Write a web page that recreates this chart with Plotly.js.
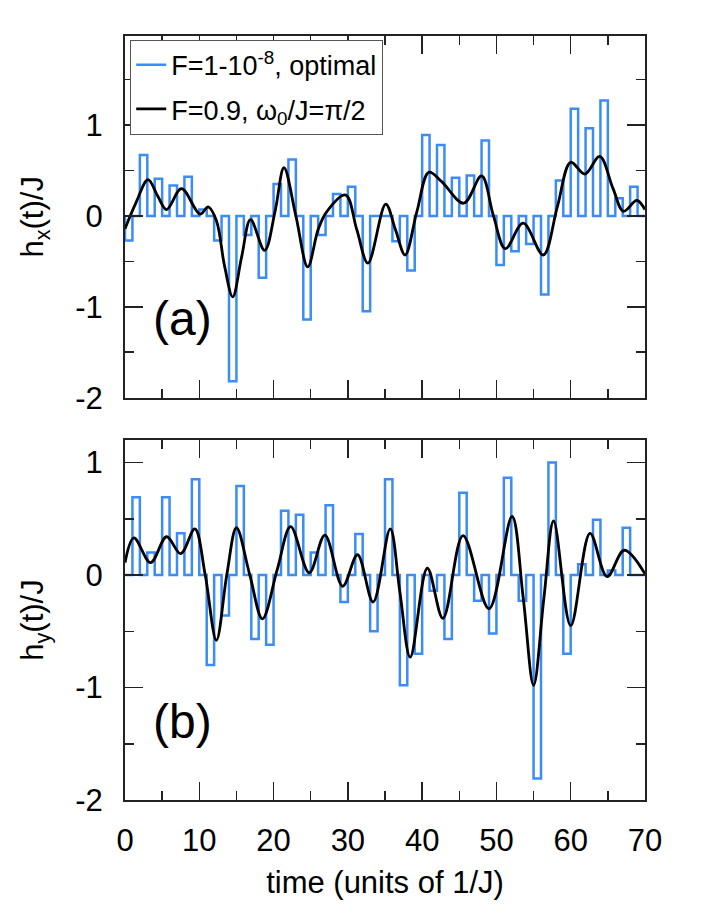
<!DOCTYPE html>
<html>
<head>
<meta charset="utf-8">
<script src="https://cdn.plot.ly/plotly-3.0.1.min.js"></script>
<style>
  html, body { margin: 0; padding: 0; background: #fff; }
  #chart { width: 706px; height: 913px; }
</style>
</head>
<body>
<div id="chart"></div>
<script>
// pulse amplitudes of the optimal sequence (F = 1 - 1e-8), one pulse per time slot
const PULSE_WIDTH = 1;
const T_END = 70;

// h_x pulses start on even times, h_y pulses on odd times
const hxStart = [0, 2, 4, 6, 8, 10, 12, 14, 16, 18, 20, 22, 24, 26, 28, 30, 32, 34,
  36, 38, 40, 42, 44, 46, 48, 50, 52, 54, 56, 58, 60, 62, 64, 66, 68];
const hxPulse = [-0.27, 0.67, 0.41, 0.335, 0.43, 0.07, -0.27, -1.82, -0.21, -0.68,
  0.35, 0.62, -1.14, -0.21, 0.24, 0.32, -1.05, 0.0, -0.28, -0.6, 0.89, 0.78,
  0.42, 0.445, 0.83, -0.54, -0.39, -0.31, -0.865, 0.39, 1.18, 0.965, 1.27, 0.195, 0.32];

const hyStart = [1, 3, 5, 7, 9, 11, 13, 15, 17, 19, 21, 23, 25, 27, 29, 31, 33, 35,
  37, 39, 41, 43, 45, 47, 49, 51, 53, 55, 57, 59, 61, 63, 65, 67, 69];
const hyPulse = [0.69, 0.2, 0.69, 0.37, 0.85, -0.8, -0.36, 0.79, -0.57, -0.62,
  0.57, 0.535, 0.2, 0.62, -0.24, 0.365, -0.5, 0.85, -0.98, -0.7, -0.14, -0.57,
  0.73, -0.23, -0.52, 0.865, -0.23, -1.81, 1.0, -0.7, 0.095, 0.49, 0.04, 0.42, 0.0];

// smooth field for F = 0.9, omega0/J = pi/2
const smoothXt = [0, 1.5, 3.1, 4.4, 5.6, 7.6, 10.1, 11.2, 12.3, 13.4, 14.5, 15.7, 16.9,
  18.8, 20.2, 21.4, 23.0, 24.6, 26.0, 27.1, 29.7, 31.2, 32.7, 35.1, 36.4, 37.7, 39.3,
  40.9, 42.6, 45.6, 48.0, 49.6, 51.2, 53.6, 56.3, 58.2, 60.0, 61.9, 63.9, 65.7, 67.1, 68.9, 70];
const smoothX = [-0.14, 0.15, 0.4, 0.22, 0.07, 0.3, 0.02, 0.1, -0.05, -0.55, -0.89, -0.45, -0.04,
  -0.38, 0.05, 0.53, 0.0, -0.56, -0.15, 0.04, 0.23, -0.15, -0.52, 0.13, -0.15, -0.43, 0.05,
  0.48, 0.38, 0.14, 0.44, 0.0, -0.36, -0.08, -0.43, 0.1, 0.59, 0.46, 0.655, 0.3, 0.05, 0.17, 0.07];

const smoothYt = [0, 1.2, 3.45, 5.6, 7.5, 9.4, 10.8, 12.3, 13.7, 15.0, 16.8, 18.5, 20.5,
  22.3, 24.8, 26.9, 29.3, 31.3, 33.4, 35.7, 37.0, 38.4, 40.7, 42.8, 45.5, 49.0, 52.1,
  53.6, 55.0, 56.4, 57.7, 60.0, 62.6, 64.9, 67.2, 70];
const smoothY = [0.11, 0.33, 0.11, 0.34, 0.19, 0.41, 0.0, -0.58, 0.0, 0.42, 0.0, -0.39, 0.05,
  0.43, 0.02, 0.355, -0.1, 0.18, -0.24, 0.41, -0.15, -0.73, 0.06, -0.385, 0.35, -0.3, 0.52,
  -0.2, -0.98, -0.2, 0.48, -0.45, 0.37, -0.015, 0.22, 0.01];

// tick labels (plain hyphen as in the original figure)
const yTickVals = [-2, -1, 0, 1];
const yTickText = ["-2", "-1", "0", "1"];
const xTickVals = [0, 10, 20, 30, 40, 50, 60, 70];
const xTickText = ["0", "10", "20", "30", "40", "50", "60", "70"];

const BLUE = "#3b8cf5";
const INK = "#222222";
const FONT = "Liberation Sans, Arial, Helvetica, sans-serif";

// outline of the pulse train: up, across, down, then along zero to the next slot
function pulseOutline(starts, amps) {
  const xs = [0], ys = [0];
  starts.forEach((t, i) => {
    xs.push(t, t, t + PULSE_WIDTH, t + PULSE_WIDTH);
    ys.push(0, amps[i], amps[i], 0);
  });
  xs.push(T_END);
  ys.push(0);
  return { xs, ys };
}

const px = pulseOutline(hxStart, hxPulse);
const py = pulseOutline(hyStart, hyPulse);

const traces = [
  {
    x: px.xs, y: px.ys, xaxis: "x", yaxis: "y",
    type: "scatter", mode: "lines",
    line: { color: BLUE, width: 2.5 },
    name: "F=1-10<sup>-8</sup>, optimal",
    legendgroup: "opt",
  },
  {
    x: smoothXt, y: smoothX, xaxis: "x", yaxis: "y",
    type: "scatter", mode: "lines",
    line: { color: "#000", width: 2.8, shape: "spline", smoothing: 1 },
    name: "F=0.9, ω<sub>0</sub>/J=π/2",
    legendgroup: "smooth",
  },
  {
    x: py.xs, y: py.ys, xaxis: "x2", yaxis: "y2",
    type: "scatter", mode: "lines",
    line: { color: BLUE, width: 2.5 },
    showlegend: false,
  },
  {
    x: smoothYt, y: smoothY, xaxis: "x2", yaxis: "y2",
    type: "scatter", mode: "lines",
    line: { color: "#000", width: 2.8, shape: "spline", smoothing: 1 },
    showlegend: false,
  },
];

const axisBase = {
  showline: true, linecolor: INK, linewidth: 2, mirror: "ticks",
  ticks: "inside", ticklen: 18, tickwidth: 1.5, tickcolor: INK,
  showgrid: false, zeroline: false,
  tickfont: { family: FONT, size: 31, color: "#000" },
};

const xBase = {
  ...axisBase, range: [0, T_END], tickmode: "array", tickvals: xTickVals, ticktext: xTickText,
  minor: { tickmode: "linear", ticks: "inside", ticklen: 9, tickwidth: 1.5, tickcolor: INK, dtick: 5, tick0: 0 },
};
const yBase = {
  ...axisBase, tickmode: "array", tickvals: yTickVals, ticktext: yTickText, ticklabelstandoff: 14,
  minor: { tickmode: "linear", ticks: "inside", ticklen: 9, tickwidth: 1.5, tickcolor: INK, dtick: 0.5, tick0: 0 },
};

const layout = {
  width: 706, height: 913,
  paper_bgcolor: "#fff", plot_bgcolor: "#fff",
  margin: { l: 125, r: 61, t: 36, b: 113 },
  font: { family: FONT, color: "#000" },
  showlegend: true,
  legend: {
    x: 0.01, y: 0.995, xanchor: "left", yanchor: "top",
    bgcolor: "#fff", bordercolor: "#555", borderwidth: 1,
    font: { family: FONT, size: 27 },
    traceorder: "grouped", tracegroupgap: 6,
  },
  xaxis: { ...xBase, anchor: "y", showticklabels: false },
  yaxis: {
    ...yBase, anchor: "x", domain: [0.5266, 1], range: [-2, 1.98],
    title: { text: "h<sub>x</sub>(t)/J", font: { family: FONT, size: 31 }, standoff: 22 },
  },
  xaxis2: {
    ...xBase, anchor: "y2", ticklabelstandoff: 12,
    title: { text: "time (units of 1/J)", font: { family: FONT, size: 31 }, standoff: 14 },
  },
  yaxis2: {
    ...yBase, anchor: "x2", domain: [0, 0.4712], range: [-2, 1.2],
    title: { text: "h<sub>y</sub>(t)/J", font: { family: FONT, size: 31 }, standoff: 22 },
  },
  annotations: [
    { text: "(a)", xref: "x domain", yref: "y domain", x: 0.05, y: 0.14,
      xanchor: "left", yanchor: "bottom", showarrow: false, font: { family: FONT, size: 48 } },
    { text: "(b)", xref: "x2 domain", yref: "y2 domain", x: 0.05, y: 0.14,
      xanchor: "left", yanchor: "bottom", showarrow: false, font: { family: FONT, size: 48 } },
  ],
};

Plotly.newPlot("chart", traces, layout, { displayModeBar: false, staticPlot: true });
</script>
</body>
</html>
